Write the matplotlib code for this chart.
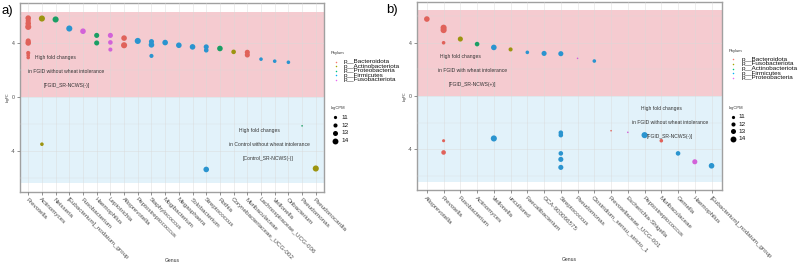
# -*- coding: utf-8 -*-

import matplotlib
import numpy as np

matplotlib.use("agg")

from matplotlib import pyplot as plt

plt.rcParams["font.family"] = ["Liberation Sans", "DejaVu Sans"]

# ---- panel a data ----
genus_a = [
    "Prevotella", "Actinomyces", "Neisseria", "[Eubacterium]_nodatum_group",
    "Fusobacterium", "Haemophilus", "Leptotrichia", "Alloprevotella",
    "Peptostreptococcus", "Staphylococcus", "Mogibacterium", "Megasphaera",
    "Solobacterium", "Streptococcus", "Rothia", "Corynebacteriaceae_UCG-002",
    "Muribaculaceae", "Lachnospiraceae_UCG-006", "Veillonella", "Oribacterium",
    "Pseudomonas", "Pseudonocardia",
]
phylum_of_a = [
    "p__Bacteroidota", "p__Actinobacteriota", "p__Proteobacteria", "p__Firmicutes",
    "p__Fusobacteriota", "p__Proteobacteria", "p__Fusobacteriota", "p__Bacteroidota",
    "p__Firmicutes", "p__Firmicutes", "p__Firmicutes", "p__Firmicutes",
    "p__Firmicutes", "p__Firmicutes", "p__Proteobacteria", "p__Actinobacteriota",
    "p__Bacteroidota", "p__Firmicutes", "p__Firmicutes", "p__Firmicutes",
    "p__Proteobacteria", "p__Actinobacteriota",
]
phyla_a = ["p__Bacteroidota", "p__Actinobacteriota", "p__Proteobacteria",
           "p__Firmicutes", "p__Fusobacteriota"]

pt_genus_a = (["Prevotella"] * 9 + ["Actinomyces"] * 2 + ["Neisseria",
              "[Eubacterium]_nodatum_group", "Fusobacterium"] + ["Haemophilus"] * 2
              + ["Leptotrichia"] * 3 + ["Alloprevotella"] * 2 + ["Peptostreptococcus"]
              + ["Staphylococcus"] * 3 + ["Mogibacterium", "Megasphaera", "Solobacterium"]
              + ["Streptococcus"] * 3 + ["Rothia", "Corynebacteriaceae_UCG-002"]
              + ["Muribaculaceae"] * 2 + ["Lachnospiraceae_UCG-006", "Veillonella",
              "Oribacterium", "Pseudomonas", "Pseudonocardia"])
pt_logfc_a = [5.88, 5.68, 5.48, 5.23, 4.19, 4.04, 3.30, 3.13, 2.96,
              5.85, -3.46, 5.78, 5.11, 4.91, 4.60, 4.04,
              4.60, 4.08, 3.55, 4.40, 3.87, 4.19,
              4.14, 3.90, 3.08, 4.07, 3.87, 3.75,
              3.75, 3.50, -5.33, 3.63, 3.38, 3.35, 3.15,
              2.84, 2.69, 2.61, -2.10, -5.26]
pt_logcpm_a = [13, 12.5, 13, 13.5, 12.5, 13, 11.5, 11, 11,
               13.5, 11, 13.5, 13.5, 13, 12.5, 12.5,
               12.5, 12, 11.5, 13, 13.5, 13.5,
               12.5, 13, 11.5, 13, 13, 13,
               12.5, 12, 13, 13, 12, 12.5, 12.5,
               11, 11, 11, 9, 13.5]

# ---- panel b data ----
genus_b = [
    "Alloprevotella", "Prevotella", "Fusobacterium", "Actinomyces", "Veillonella",
    "uncultured", "Faecalibacterium", "GCA-900066575", "Streptococcus",
    "Pseudomonas", "Clostridium_sensu_stricto_1", "Prevotellaceae_UCG-001",
    "Escherichia-Shigella", "Peptostreptococcus", "Muribaculaceae", "Gemella",
    "Haemophilus", "[Eubacterium]_nodatum_group",
]
phylum_of_b = [
    "p__Bacteroidota", "p__Bacteroidota", "p__Fusobacteriota", "p__Actinobacteriota",
    "p__Firmicutes", "p__Fusobacteriota", "p__Firmicutes", "p__Firmicutes",
    "p__Firmicutes", "p__Proteobacteria", "p__Firmicutes", "p__Bacteroidota",
    "p__Proteobacteria", "p__Firmicutes", "p__Bacteroidota", "p__Firmicutes",
    "p__Proteobacteria", "p__Firmicutes",
]
phyla_b = ["p__Bacteroidota", "p__Fusobacteriota", "p__Actinobacteriota",
           "p__Firmicutes", "p__Proteobacteria"]

pt_genus_b = (["Alloprevotella"] + ["Prevotella"] * 5 + ["Fusobacterium", "Actinomyces"]
              + ["Veillonella"] * 2 + ["uncultured", "Faecalibacterium", "GCA-900066575"]
              + ["Streptococcus"] * 6 + ["Pseudomonas", "Clostridium_sensu_stricto_1",
              "Prevotellaceae_UCG-001", "Escherichia-Shigella", "Peptostreptococcus",
              "Muribaculaceae", "Gemella", "Haemophilus", "[Eubacterium]_nodatum_group"])
pt_logfc_b = [5.78, 5.13, 4.95, 4.00, -3.35, -4.23, 4.28, 3.90,
              3.65, -3.18, 3.50, 3.28, 3.20,
              3.18, -2.75, -2.93, -4.30, -4.75, -5.35,
              2.83, 2.63, -2.60, -2.72, -2.93, -3.35, -4.30, -4.93, -5.23]
pt_logcpm_b = [13, 13.5, 13.5, 11, 10.5, 12, 12.5, 12,
               13, 13.5, 11.5, 11, 12.5,
               12.5, 12, 12, 12, 12.5, 12.5,
               9, 11, 9, 9, 13.5, 11, 12, 12.5, 13]

logcpm_keys = [11, 12, 13, 14]
palette = ["#F8766D", "#A3A500", "#00BF7D", "#00B0F6", "#E76BF3"]
dark = ["#E0625A", "#9C9410", "#1A9E64", "#2A94CF", "#D262D8"]

PINK = "#F5CBD0"
BLUE = "#E2F2FA"
TXT = "#333333"


def msize(logcpm):
    d = 3.6 + (np.asarray(logcpm, dtype=float) - 11) * 1.0
    d = np.clip(d, 0.8, None)
    return (d * 72 / 100) ** 2


def panel(ax, genus, phylum_of, phyla, pt_genus, pt_logfc, pt_logcpm, band, ylim,
          notes_hi, notes_lo):
    xs = np.array([genus.index(g) for g in pt_genus])
    cols = [dark[phyla.index(phylum_of[genus.index(g)])] for g in pt_genus]
    n = len(genus)
    ax.set_xlim(-0.6, n - 0.4)
    ax.set_ylim(-ylim, ylim)
    ax.axhspan(0, band, color=PINK, zorder=0.5, lw=0)
    ax.axhspan(-band, 0, color=BLUE, zorder=0.5, lw=0)
    ax.set_xticks(range(n))
    ax.set_xticklabels(genus, rotation=-45, ha="left", va="top",
                       rotation_mode="anchor", fontsize=4.5, color="#4d4d4d")
    ax.set_yticks([-4, 0, 4])
    ax.set_yticks([-6, -2, 2, 6], minor=True)
    ax.set_yticklabels(["-4", "0", "4"], fontsize=3.8, color="#4d4d4d")
    ax.tick_params(axis="both", which="major", length=2, width=0.5, color="#666666",
                   pad=1.5)
    ax.tick_params(axis="y", which="minor", length=0)
    ax.grid(which="major", color="#d9d9d9", lw=0.45, alpha=0.7, zorder=1)
    ax.grid(which="minor", axis="y", color="#d9d9d9", lw=0.3, alpha=0.7, zorder=1)
    ax.set_axisbelow(False)
    for s in ax.spines.values():
        s.set_color("#a0a0a0")
        s.set_linewidth(1.0)
    ax.scatter(xs, pt_logfc, s=msize(pt_logcpm), c=cols, lw=0, zorder=3)
    ax.set_xlabel("Genus", fontsize=3.6, color=TXT)
    ax.set_ylabel("logFC", fontsize=2.6, color=TXT)
    for (x, y, t) in notes_hi + notes_lo:
        ax.text(x, y, t, ha="center", va="center", fontsize=3.6, color=TXT, zorder=4)


def legend(ov, x0, ytitle, phyla, ycpm, dy_p, dy_c):
    ov.text(x0, ytitle, "Phylum", fontsize=3.0, color=TXT, va="center")
    for i, p in enumerate(phyla):
        y = ytitle + 8.3 + dy_p * i
        ov.scatter([x0 + 5], [y], s=1.2, c=palette[i], lw=0)
        ov.text(x0 + 13, y, p, fontsize=4.6, color="#111111", va="center")
    ov.text(x0, ycpm, "logCPM", fontsize=3.0, color=TXT, va="center")
    for i, k in enumerate(logcpm_keys):
        y = ycpm + 9 + dy_c * i
        ov.scatter([x0 + 4.5], [y], s=msize(k) * 0.8, c="black", lw=0)
        ov.text(x0 + 10.5, y, str(k), fontsize=4.6, color="#111111", va="center")


def make_plot():
    fig = plt.figure(figsize=(8, 2.63), dpi=100)
    ax_a = fig.add_axes([0.025, 0.270, 0.380, 0.7186])
    ax_b = fig.add_axes([0.521, 0.2764, 0.381, 0.7166])

    panel(ax_a, genus_a, phylum_of_a, phyla_a, pt_genus_a, pt_logfc_a, pt_logcpm_a,
          6.35, 7.0,
          [(2.0, 2.96, "High fold changes"),
           (2.8, 1.95, "in FGID without wheat intolerance"),
           (2.8, 0.86, "[FGID_SR-NCWS(-)]")],
          [(16.9, -2.44, "High fold changes"),
           (17.6, -3.48, "in Control without wheat intolerance"),
           (17.5, -4.55, "[Control_SR-NCWS(-)]")])
    panel(ax_b, genus_b, phylum_of_b, phyla_b, pt_genus_b, pt_logfc_b, pt_logcpm_b,
          6.45, 7.07,
          [(2.0, 3.0, "High fold changes"),
           (2.7, 1.95, "in FGID with wheat intolerance"),
           (2.7, 0.88, "[FGID_SR-NCWS(+)]")],
          [(14.0, -0.92, "High fold changes"),
           (14.55, -1.97, "in FGID without wheat intolerance"),
           (14.5, -3.05, "[FGID_SR-NCWS(-)]")])

    ax_a.xaxis.set_label_coords(0.5, -0.35)
    ax_b.xaxis.set_label_coords(0.5, -0.352)
    ax_a.yaxis.set_label_coords(-0.035, 0.5)
    ax_b.yaxis.set_label_coords(-0.033, 0.5)

    # overlay in pixel space for legends and panel tags
    ov = fig.add_axes([0, 0, 1, 1])
    ov.set_xlim(0, 800)
    ov.set_ylim(263, 0)
    ov.axis("off")
    ov.patch.set_alpha(0)

    legend(ov, 330.5, 53.3, phyla_a, 108.3, 4.6, 7.8)
    legend(ov, 728.3, 50.7, phyla_b, 107.7, 4.75, 7.3)

    ov.text(1.5, 11, "a)", fontsize=9.5, color="black", va="center")
    ov.text(386.5, 10, "b)", fontsize=9.5, color="black", va="center")

    fig.savefig("out.png", dpi=100, facecolor="white")
    plt.close()


if __name__ == "__main__":
    make_plot()
